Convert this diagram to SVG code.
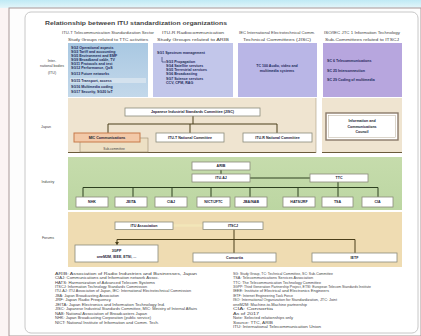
<svg xmlns="http://www.w3.org/2000/svg" width="421" height="336" viewBox="0 0 421 336">
<defs>
<linearGradient id="topband" x1="0" y1="0" x2="0" y2="1">
<stop offset="0" stop-color="#bfeaf5"/><stop offset="1" stop-color="#e4f6fa"/>
</linearGradient>
<linearGradient id="c1" x1="0" y1="0" x2="0" y2="1">
<stop offset="0" stop-color="#a9c8e2"/><stop offset="1" stop-color="#c3d8ea"/>
</linearGradient>
<linearGradient id="grn" x1="0" y1="0" x2="0" y2="1">
<stop offset="0" stop-color="#c6dcac"/><stop offset="1" stop-color="#bcd6a2"/>
</linearGradient>
</defs>
<style>
text{font-family:"Liberation Sans",Arial,sans-serif;fill:#333}
.t{font-size:6px;font-weight:bold;fill:#444}
.h{font-size:3.6px;fill:#444}
.lb{font-size:3.6px;fill:#444}
.bx{font-size:3.6px;fill:#223;font-weight:bold}
.nb{font-size:3.6px;fill:#1e2a5a;font-weight:bold}
.nt{font-size:3.2px;fill:#444}
.box{fill:#fff;stroke:#8a8a7a;stroke-width:0.8}
.ln{fill:none;stroke:#4a3e1a;stroke-width:1}
.gl{fill:none;stroke:#2e4020;stroke-width:1}
</style>
<rect x="0" y="0" width="421" height="336" fill="#fbf4f4"/>
<rect x="0" y="0" width="421" height="8" fill="url(#topband)"/>
<rect x="9" y="8" width="412" height="328" fill="#fdfdfd" stroke="#a89898" stroke-width="1"/>
<rect x="25" y="12" width="393" height="321" rx="6" fill="#ffffff" stroke="#c8c8c8" stroke-width="1"/>

<text class="t" x="45" y="25" textLength="182" lengthAdjust="spacingAndGlyphs">Relationship between ITU standardization organizations</text>

<g id="row1-label">
<text class="lb" x="52" y="62" text-anchor="middle">Inter-</text>
<text class="lb" x="52" y="67" text-anchor="middle">national bodies</text>
<text class="lb" x="52" y="74" text-anchor="middle">(ITU)</text>
</g>

<g id="col1">
<text class="h" x="108" y="34" text-anchor="middle" textLength="92" lengthAdjust="spacingAndGlyphs">ITU-T Telecommunication Standardization Sector</text>
<text class="h" x="108" y="41" text-anchor="middle" textLength="80" lengthAdjust="spacingAndGlyphs">Study Groups related to TTC activities</text>
<rect x="68" y="43" width="80" height="54" fill="url(#c1)"/>
<rect x="70" y="78" width="76" height="5" fill="#d4e2ee"/>
<text class="nb" x="71" y="49">SG2  Operational aspects</text>
<text class="nb" x="71" y="53">SG3  Tariff and accounting</text>
<text class="nb" x="71" y="57">SG5  Environment and EMF</text>
<text class="nb" x="71" y="61">SG9  Broadband cable, TV</text>
<text class="nb" x="71" y="65">SG11 Protocols and test</text>
<text class="nb" x="71" y="69">SG12 Performance, QoS</text>
<text class="nb" x="71" y="75">SG13 Future networks</text>
<text class="nb" x="71" y="81.5">SG15 Transport, access</text>
<text class="nb" x="71" y="88">SG16 Multimedia coding</text>
<text class="nb" x="71" y="93">SG17 Security, SG20 IoT</text>
</g>

<g id="col2">
<text class="h" x="193" y="34" text-anchor="middle" textLength="62" lengthAdjust="spacingAndGlyphs">ITU-R Radiocommunication</text>
<text class="h" x="193" y="41" text-anchor="middle" textLength="72" lengthAdjust="spacingAndGlyphs">Study Groups related to ARIB</text>
<rect x="153" y="43" width="80" height="54" fill="#c2c6ea"/>
<text class="nb" x="157" y="54">SG1  Spectrum management</text>
<path d="M162 57 V62 H166" fill="none" stroke="#1e2a5a" stroke-width="0.6"/>
<text class="nb" x="166" y="63">SG3  Propagation</text>
<text class="nb" x="166" y="67">SG4  Satellite services</text>
<text class="nb" x="166" y="71">SG5  Terrestrial services</text>
<text class="nb" x="166" y="75">SG6  Broadcasting</text>
<text class="nb" x="166" y="80">SG7  Science services</text>
<text class="nb" x="166" y="84">CCV, CPM, RAG</text>
</g>

<g id="col3">
<text class="h" x="277" y="34" text-anchor="middle" textLength="76" lengthAdjust="spacingAndGlyphs">IEC International Electrotechnical Comm.</text>
<text class="h" x="277" y="41" text-anchor="middle" textLength="68" lengthAdjust="spacingAndGlyphs">Technical Committees (JISC)</text>
<rect x="238" y="43" width="79" height="54" fill="#b9b6e6"/>
<text class="nb" x="277" y="67" text-anchor="middle">TC 100  Audio, video and</text>
<text class="nb" x="277" y="72" text-anchor="middle">multimedia systems</text>
</g>

<g id="col4">
<text class="h" x="362" y="34" text-anchor="middle" textLength="76" lengthAdjust="spacingAndGlyphs">ISO/IEC JTC 1 Information Technology</text>
<text class="h" x="362" y="41" text-anchor="middle" textLength="74" lengthAdjust="spacingAndGlyphs">Sub-Committees related to ITSCJ</text>
<rect x="323" y="43" width="79" height="54" fill="#b7a6de"/>
<text class="nb" x="327" y="62">SC 6  Telecommunications</text>
<text class="nb" x="327" y="72">SC 25 Interconnection</text>
<text class="nb" x="327" y="81">SC 29 Coding of multimedia</text>
</g>

<g id="row2-bg">
<rect x="68" y="98" width="248" height="55" fill="#efe4d0"/>
<rect x="322" y="98" width="80" height="55" fill="#efe4d0"/>
<line x1="68" y1="152.5" x2="316" y2="152.5" stroke="#6a5a3a" stroke-width="1"/>
<line x1="322" y1="152.5" x2="402" y2="152.5" stroke="#6a5a3a" stroke-width="1"/>
<line x1="316" y1="98" x2="316" y2="153" stroke="#a89a80" stroke-width="0.6"/>
<text class="lb" x="46" y="128" text-anchor="middle">Japan</text>
</g>

<g id="row3-bg">
<rect x="68" y="157" width="334" height="53" fill="url(#grn)"/>
<text class="lb" x="48" y="183" text-anchor="middle">Industry</text>
</g>

<g id="row4-bg">
<rect x="68" y="212" width="334" height="55" fill="#efdcb2"/>
<text class="lb" x="48" y="239" text-anchor="middle">Forums</text>
</g>

<g id="connectors">
<path class="ln" d="M193 116 V124 M108 124 H277 M108 124 V133 M190 124 V133 M277 124 V133"/>
<path class="gl" d="M221 170 V174 M250 178 H310 M83 187.5 H378 M338 182 V187.5 M83 187.5 V197 M133 187.5 V197 M172 187.5 V197 M211 187.5 V197 M250 187.5 V197 M298 187.5 V197 M338 187.5 V197 M378 187.5 V197"/>
<line x1="173" y1="225.5" x2="203" y2="225.5" stroke="#f2e6b8" stroke-width="2.5"/>
<path class="ln" d="M234 229 V239.5 M117 239.5 H355 M117 239.5 V245 M234 239.5 V253 M355 239.5 V253"/>
<path d="M115 242 L119 242 L117 245 Z" fill="#4a3e1a"/>
</g>

<g id="jisc">
<rect class="box" x="125" y="108" width="135" height="8"/>
<text class="bx" x="192.5" y="113.3" text-anchor="middle">Japanese Industrial Standards Committee (JISC)</text>
</g>
<g id="mic">
<rect x="80" y="138" width="68" height="14" fill="#ede0c4" stroke="#9a8a70" stroke-width="0.6"/>
<text class="nt" x="114" y="150" text-anchor="middle">Sub-committee</text>
<rect x="74" y="133" width="66" height="9" fill="#f3c9a8" stroke="#c77a4a" stroke-width="1"/>
<text class="bx" x="107" y="139" text-anchor="middle" fill="#5a2a10">MIC Communications</text>
</g>
<g id="itut-nc">
<rect class="box" x="156" y="133" width="68" height="9"/>
<text class="bx" x="190" y="139" text-anchor="middle">ITU-T National Committee</text>
</g>
<g id="itur-nc">
<rect class="box" x="243" y="133" width="69" height="9"/>
<text class="bx" x="277.5" y="139" text-anchor="middle">ITU-R National Committee</text>
</g>
<g id="council">
<rect x="326" y="113" width="72" height="27" fill="#fff" stroke="#8a7a6a" stroke-width="1.4"/>
<rect x="328.5" y="115.5" width="67" height="22" fill="none" stroke="#b8ab98" stroke-width="0.5"/>
<text class="bx" x="362" y="122" text-anchor="middle">Information and</text>
<text class="bx" x="362" y="127.5" text-anchor="middle">Communications</text>
<text class="bx" x="362" y="133" text-anchor="middle">Council</text>
</g>

<g id="arib">
<rect class="box" x="192" y="162" width="58" height="8"/>
<text class="bx" x="221" y="167.3" text-anchor="middle">ARIB</text>
</g>
<g id="ituaj">
<rect class="box" x="192" y="174" width="58" height="8"/>
<text class="bx" x="221" y="179.3" text-anchor="middle">ITU-AJ</text>
</g>
<g id="ttc">
<rect class="box" x="310" y="174" width="58" height="8"/>
<text class="bx" x="339" y="179.3" text-anchor="middle">TTC</text>
</g>
<g id="m1"><rect class="box" x="76" y="197" width="32" height="10"/><text class="bx" x="92" y="203.3" text-anchor="middle">NHK</text></g>
<g id="m2"><rect class="box" x="115" y="197" width="32" height="10"/><text class="bx" x="131" y="203.3" text-anchor="middle">JEITA</text></g>
<g id="m3"><rect class="box" x="155" y="197" width="32" height="10"/><text class="bx" x="171" y="203.3" text-anchor="middle">CIAJ</text></g>
<g id="m4"><rect class="box" x="197" y="197" width="33" height="10"/><text class="bx" x="213.5" y="203.3" text-anchor="middle">NICT/JFTC</text></g>
<g id="m5"><rect class="box" x="235" y="197" width="32" height="10"/><text class="bx" x="251" y="203.3" text-anchor="middle">JBA/NAB</text></g>
<g id="m6"><rect class="box" x="283" y="197" width="32" height="10"/><text class="bx" x="299" y="203.3" text-anchor="middle">HATS/JRF</text></g>
<g id="m7"><rect class="box" x="322" y="197" width="31" height="10"/><text class="bx" x="337.5" y="203.3" text-anchor="middle">TSA</text></g>
<g id="m8"><rect class="box" x="362" y="197" width="31" height="10"/><text class="bx" x="377.5" y="203.3" text-anchor="middle">CIA</text></g>

<g id="itu-assoc">
<rect class="box" x="115" y="222" width="58" height="7.5"/>
<text class="bx" x="144" y="227.2" text-anchor="middle">ITU Association</text>
</g>
<g id="itscj">
<rect class="box" x="203" y="222" width="60" height="7.5"/>
<text class="bx" x="233" y="227.2" text-anchor="middle">ITSCJ</text>
</g>
<g id="forum1">
<rect class="box" x="75" y="245" width="83" height="17"/>
<text class="bx" x="116.5" y="251.5" text-anchor="middle">3GPP</text>
<text class="bx" x="116.5" y="257.5" text-anchor="middle">oneM2M, IEEE, ETSI, ...</text>
</g>
<g id="forum2">
<rect class="box" x="193" y="253" width="83" height="9"/>
<text class="bx" x="234.5" y="259" text-anchor="middle">Consortia</text>
</g>
<g id="forum3">
<rect class="box" x="312" y="253" width="85" height="9"/>
<text class="bx" x="354.5" y="259" text-anchor="middle">IETF</text>
</g>

<g id="notes-left">
<text class="nt" x="55" y="275" textLength="142" lengthAdjust="spacingAndGlyphs">ARIB: Association of Radio Industries and Businesses, Japan</text>
<text class="nt" x="55" y="279" textLength="104" lengthAdjust="spacingAndGlyphs">CIAJ: Communications and Information network Assoc.</text>
<text class="nt" x="55" y="283.5" textLength="100" lengthAdjust="spacingAndGlyphs">HATS: Harmonization of Advanced Telecom Systems</text>
<text class="nt" x="55" y="288" textLength="92" lengthAdjust="spacingAndGlyphs">ITSCJ: Information Technology Standards Commission</text>
<text class="nt" x="55" y="292" textLength="136" lengthAdjust="spacingAndGlyphs">ITU-AJ: ITU Association of Japan, IEC: International Electrotechnical Commission</text>
<text class="nt" x="55" y="297" textLength="64" lengthAdjust="spacingAndGlyphs">JBA: Japan Broadcasting Association</text>
<text class="nt" x="55" y="301" textLength="56" lengthAdjust="spacingAndGlyphs">JRF: Japan Radio Frequency</text>
<text class="nt" x="55" y="305.5" textLength="110" lengthAdjust="spacingAndGlyphs">JEITA: Japan Electronics and Information Technology Ind.</text>
<text class="nt" x="55" y="310" textLength="142" lengthAdjust="spacingAndGlyphs">JISC: Japanese Industrial Standards Committee, MIC: Ministry of Internal Affairs</text>
<text class="nt" x="55" y="314.5" textLength="92" lengthAdjust="spacingAndGlyphs">NAB: National Association of Broadcasters Japan</text>
<text class="nt" x="55" y="319" textLength="96" lengthAdjust="spacingAndGlyphs">NHK: Japan Broadcasting Corporation (public service)</text>
<text class="nt" x="55" y="323.5" textLength="104" lengthAdjust="spacingAndGlyphs">NICT: National Institute of Information and Comm. Tech.</text>
</g>
<g id="notes-right">
<text class="nt" x="233" y="275" textLength="100" lengthAdjust="spacingAndGlyphs">SG: Study Group, TC: Technical Committee, SC: Sub-Committee</text>
<text class="nt" x="233" y="279" textLength="80" lengthAdjust="spacingAndGlyphs">TSA: Telecommunications Services Association</text>
<text class="nt" x="233" y="283.5" textLength="88" lengthAdjust="spacingAndGlyphs">TTC: The Telecommunication Technology Committee</text>
<text class="nt" x="233" y="288" textLength="138" lengthAdjust="spacingAndGlyphs">3GPP: Third Generation Partnership Project, ETSI: European Telecom Standards Institute</text>
<text class="nt" x="233" y="292" textLength="96" lengthAdjust="spacingAndGlyphs">IEEE: Institute of Electrical and Electronics Engineers</text>
<text class="nt" x="233" y="297" textLength="60" lengthAdjust="spacingAndGlyphs">IETF: Internet Engineering Task Force</text>
<text class="nt" x="233" y="301" textLength="104" lengthAdjust="spacingAndGlyphs">ISO: International Organization for Standardization, JTC: Joint</text>
<text class="nt" x="233" y="305.5" textLength="74" lengthAdjust="spacingAndGlyphs">oneM2M: Machine-to-Machine partnership</text>
<text class="nt" x="233" y="310" textLength="40" lengthAdjust="spacingAndGlyphs">CIA: Consortia</text>
<text class="nt" x="233" y="314.5" textLength="26" lengthAdjust="spacingAndGlyphs">As of 2017</text>
<text class="nt" x="233" y="319" textLength="60" lengthAdjust="spacingAndGlyphs">Note: Selected relationships only</text>
<text class="nt" x="233" y="323.5" textLength="40" lengthAdjust="spacingAndGlyphs">Source: TTC, ARIB</text>
<text class="nt" x="233" y="328" textLength="88" lengthAdjust="spacingAndGlyphs">ITU: International Telecommunication Union</text>
</g>
</svg>
